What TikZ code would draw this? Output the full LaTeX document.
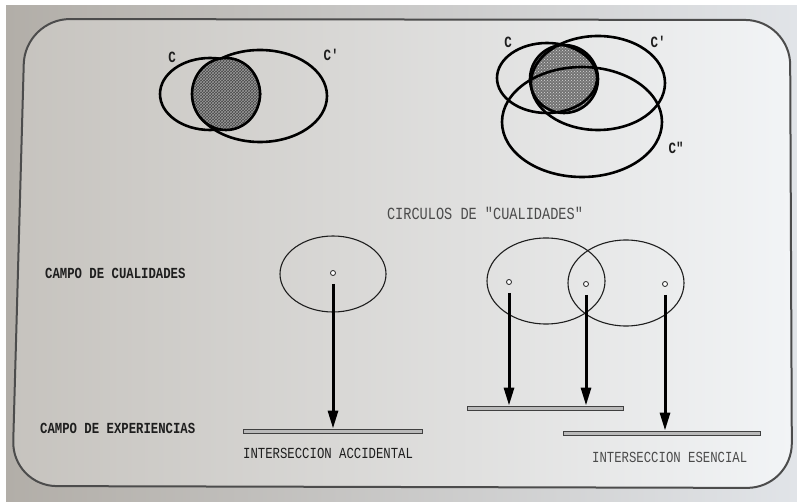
\documentclass[tikz,border=0pt]{standalone}
\usepackage{fontspec}
\setmonofont{Liberation Mono}
\usetikzlibrary{arrows.meta,shapes.geometric,patterns}
\definecolor{outL}{RGB}{178,174,168}
\definecolor{outR}{RGB}{225,228,232}
\definecolor{inL}{RGB}{198,195,190}
\definecolor{inR}{RGB}{242,244,246}
\definecolor{ink}{RGB}{30,30,30}
\definecolor{inkR}{RGB}{75,75,75}
\newcommand{\tall}[1]{\scalebox{1}[1.25]{#1}}
\tikzset{
  venn/.style={draw=black,line width=2.6pt},
  field/.style={ellipse,draw=ink,line width=1.1pt,inner sep=0pt},
  dotm/.style={circle,draw=ink,line width=0.8pt,fill=white,minimum size=5pt,inner sep=0pt},
  arr/.style={line width=3pt,draw=black,-{Triangle[length=18pt,width=10pt]}},
  bar/.style={rectangle,draw=black!75,line width=0.9pt,fill=gray!55,inner sep=0pt,minimum height=4pt},
  lab/.style={font=\ttfamily\bfseries\fontsize{12.3}{14}\selectfont,text=ink,inner sep=0pt},
  labA/.style={font=\ttfamily\fontsize{12.3}{14}\selectfont,text=ink,inner sep=0pt},
  labR/.style={font=\ttfamily\fontsize{12.3}{14}\selectfont,text=inkR,inner sep=0pt},
  clab/.style={font=\ttfamily\bfseries\fontsize{12.5}{14}\selectfont,text=ink,inner sep=0pt}
}
\begin{document}
\begin{tikzpicture}[x=1pt,y=-1pt]
\useasboundingbox (0,0) rectangle (797,502);
\fill[white] (0,0) rectangle (797,502);
\shade[left color=outL,right color=outR] (6,6) rectangle (797,502);
\shade[left color=inL,right color=inR,rounded corners=45pt]
  (400,19.5) -- (790,20) -- (792,488) -- (12,486) -- (25,19) -- cycle;
\draw[draw=black!70,line width=2pt,rounded corners=45pt]
  (400,19.5) -- (790,20) -- (792,488) -- (12,486) -- (25,19) -- cycle;

% top-left venn
\draw[venn] (210,94) ellipse [x radius=50,y radius=36];
\draw[venn] (260,96) ellipse [x radius=67,y radius=46];
\fill[black!72] (226,94) ellipse [x radius=34,y radius=36];
\fill[pattern=crosshatch,pattern color=black!40] (226,94) ellipse [x radius=34,y radius=36];
\draw[venn] (226,94) ellipse [x radius=34,y radius=36];
\node[clab] (c1) at (172,57) {\tall{C}};
\node[clab] (c1p) at (331,55) {\tall{C'}};

% top-right venn
\fill[black!55] (564,79) ellipse [x radius=34,y radius=34];
\fill[pattern=crosshatch dots,pattern color=white!85!black] (564,79) ellipse [x radius=34,y radius=34];
\draw[venn] (564,79) ellipse [x radius=34,y radius=34];
\draw[venn] (547,78) ellipse [x radius=50,y radius=35];
\draw[venn] (598,83) ellipse [x radius=67,y radius=47];
\draw[venn] (582,122) ellipse [x radius=80,y radius=55];
\node[clab] (c2) at (508,42) {\tall{C}};
\node[clab] (c2p) at (658,42) {\tall{C'}};
\node[clab] (c2pp) at (676,148) {\tall{C"}};

% title
\node[labR,font=\ttfamily\fontsize{13.6}{15}\selectfont] (title) at (485,213) {\tall{CIRCULOS DE "CUALIDADES"}};

% left labels
\node[lab,anchor=west] (cq) at (45,273) {\tall{CAMPO DE CUALIDADES}};
\node[lab,anchor=west] (ce) at (40,428) {\tall{CAMPO DE EXPERIENCIAS}};

% accidental
\node[field,minimum width=106pt,minimum height=76pt] (e0) at (333,274) {};
\node[dotm] (d0) at (333,273) {};
\node[bar,minimum width=179pt] (b0) at (332.5,431) {};
\draw[arr] ([yshift=-11pt]d0.center) -- (d0.center |- b0.north);
\node[labA,anchor=west] (ia) at (243,453) {\tall{INTERSECCION ACCIDENTAL}};

% esencial
\node[field,minimum width=118pt,minimum height=86pt] (e1) at (546,281) {};
\node[field,minimum width=116pt,minimum height=86pt] (e2) at (626,283) {};
\node[dotm] (d1) at (509,282) {};
\node[dotm] (d2) at (586,284) {};
\node[dotm] (d3) at (665,284) {};
\node[bar,minimum width=156pt] (b1) at (545,408) {};
\node[bar,minimum width=197pt] (b2) at (661.5,433) {};
\draw[arr] ([yshift=-11pt]d1.center) -- (d1.center |- b1.north);
\draw[arr] ([yshift=-11pt]d2.center) -- (d2.center |- b1.north);
\draw[arr] ([yshift=-11pt]d3.center) -- (d3.center |- b2.north);
\node[labR,anchor=west] (ie) at (592,457) {\tall{INTERSECCION ESENCIAL}};
\end{tikzpicture}
\end{document}
